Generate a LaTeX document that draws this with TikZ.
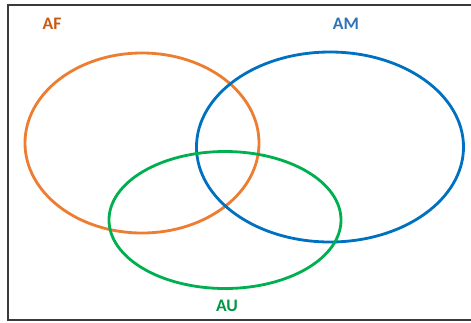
\documentclass[tikz,border=0pt]{standalone}
\usepackage{fontspec}
\setmainfont{Carlito}
\usetikzlibrary{shapes.geometric}
\definecolor{vnOrange}{HTML}{ED7D31}
\definecolor{vnOrangeText}{HTML}{C55A11}
\definecolor{vnBlue}{HTML}{0070C0}
\definecolor{vnBlueText}{HTML}{2E74B5}
\definecolor{vnGreen}{HTML}{00B050}
\definecolor{vnFrame}{HTML}{3A3A3A}
\tikzset{
  setShape/.style={ellipse, draw, fill=none, line width=2.4pt, inner sep=0pt},
  setLabel/.style={font=\fontsize{15}{17}\selectfont\bfseries, inner sep=0pt},
}

\begin{document}
\begin{tikzpicture}[x=0.03cm,y=-0.03cm]
  \useasboundingbox (0,0) rectangle (471,322);
  \draw[vnFrame, line width=1.8pt] (8,5) rectangle (476,320);

  \node[setShape, draw=vnOrange, minimum width=7.02cm, minimum height=5.4cm] (af) at (142,143) {};
  \node[setShape, draw=vnBlue, minimum width=8.01cm, minimum height=5.7cm] (am) at (330,147) {};
  \node[setShape, draw=vnGreen, minimum width=6.96cm, minimum height=4.11cm] (au) at (225,220) {};

  \node[setLabel, text=vnOrangeText] (afLabel) at (52,24) {AF};
  \node[setLabel, text=vnBlueText] (amLabel) at (346,24) {AM};
  \node[setLabel, text=vnGreen!85!black] (auLabel) at (227,306) {AU};
\end{tikzpicture}
\end{document}
